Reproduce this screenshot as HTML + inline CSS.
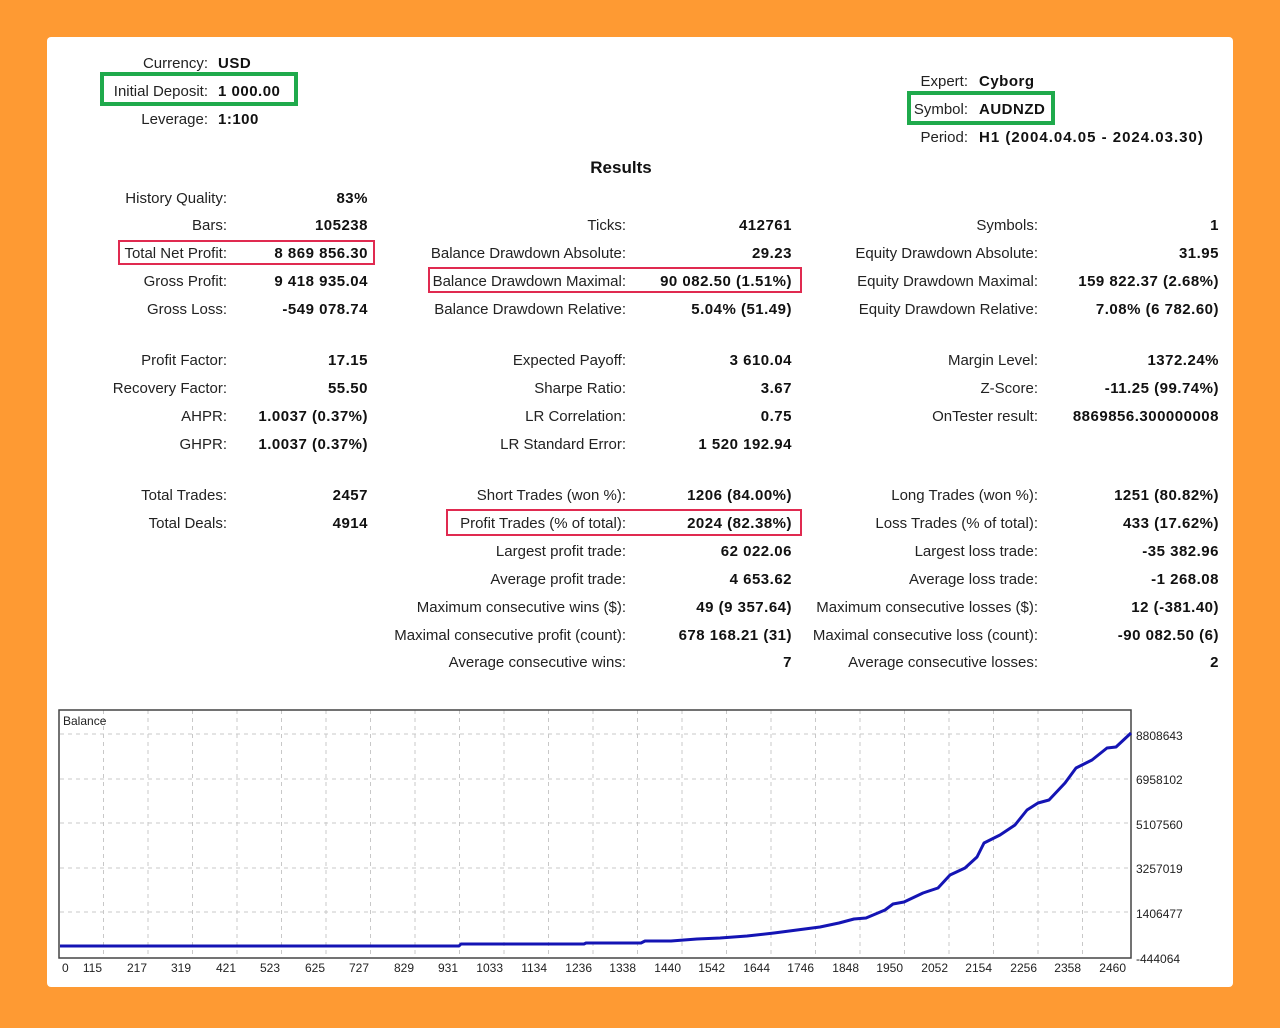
<!DOCTYPE html>
<html><head><meta charset="utf-8"><style>
body{margin:0;width:1280px;height:1026px;background:#fe9a33;position:relative;overflow:hidden;font-family:"Liberation Sans",sans-serif;font-size:15px;color:#222}
.panel{position:absolute;left:47px;top:37px;width:1186px;height:950px;background:#fff;border-radius:4px}
.w{position:absolute;left:0;top:2px;width:1280px;height:1026px}
.t{position:absolute;line-height:18px;white-space:nowrap}
.b{font-weight:bold;color:#111;letter-spacing:0.5px}
.box{position:absolute;box-sizing:border-box}
.g{border:4px solid #1faa4c}
.r{border:2px solid #e02a50}
</style></head><body>
<div class="panel"></div>
<div class="w">
<div class="t" style="top:53px;right:1072px">Currency:</div><div class="t b" style="top:53px;left:218px">USD</div>
<div class="t" style="top:81px;right:1072px">Initial Deposit:</div><div class="t b" style="top:81px;left:218px">1 000.00</div>
<div class="t" style="top:109px;right:1072px">Leverage:</div><div class="t b" style="top:109px;left:218px">1:100</div>
<div class="box g" style="left:100px;top:70px;width:198px;height:34px"></div>

<div class="t" style="top:71px;right:312px">Expert:</div><div class="t b" style="top:71px;left:979px">Cyborg</div>
<div class="t" style="top:99px;right:312px">Symbol:</div><div class="t b" style="top:99px;left:979px">AUDNZD</div>
<div class="t" style="top:127px;right:312px">Period:</div><div class="t b" style="top:127px;left:979px;letter-spacing:1px">H1 (2004.04.05 - 2024.03.30)</div>
<div class="box g" style="left:907px;top:89px;width:148px;height:34px"></div>

<div class="t b" style="top:157px;left:0;width:1242px;text-align:center;font-size:17px;letter-spacing:0">Results</div>

<div class="t" style="top:188px;right:1053px">History Quality:</div><div class="t b" style="top:188px;right:912px">83%</div>
<div class="t" style="top:215px;right:1053px">Bars:</div><div class="t b" style="top:215px;right:912px">105238</div>
<div class="t" style="top:243px;right:1053px">Total Net Profit:</div><div class="t b" style="top:243px;right:912px">8 869 856.30</div>
<div class="t" style="top:271px;right:1053px">Gross Profit:</div><div class="t b" style="top:271px;right:912px">9 418 935.04</div>
<div class="t" style="top:299px;right:1053px">Gross Loss:</div><div class="t b" style="top:299px;right:912px">-549 078.74</div>
<div class="t" style="top:350px;right:1053px">Profit Factor:</div><div class="t b" style="top:350px;right:912px">17.15</div>
<div class="t" style="top:378px;right:1053px">Recovery Factor:</div><div class="t b" style="top:378px;right:912px">55.50</div>
<div class="t" style="top:406px;right:1053px">AHPR:</div><div class="t b" style="top:406px;right:912px">1.0037 (0.37%)</div>
<div class="t" style="top:434px;right:1053px">GHPR:</div><div class="t b" style="top:434px;right:912px">1.0037 (0.37%)</div>
<div class="t" style="top:485px;right:1053px">Total Trades:</div><div class="t b" style="top:485px;right:912px">2457</div>
<div class="t" style="top:513px;right:1053px">Total Deals:</div><div class="t b" style="top:513px;right:912px">4914</div>
<div class="box r" style="left:118px;top:238px;width:257px;height:25px"></div>

<div class="t" style="top:215px;right:654px">Ticks:</div><div class="t b" style="top:215px;right:488px">412761</div>
<div class="t" style="top:243px;right:654px">Balance Drawdown Absolute:</div><div class="t b" style="top:243px;right:488px">29.23</div>
<div class="t" style="top:271px;right:654px">Balance Drawdown Maximal:</div><div class="t b" style="top:271px;right:488px">90 082.50 (1.51%)</div>
<div class="t" style="top:299px;right:654px">Balance Drawdown Relative:</div><div class="t b" style="top:299px;right:488px">5.04% (51.49)</div>
<div class="t" style="top:350px;right:654px">Expected Payoff:</div><div class="t b" style="top:350px;right:488px">3 610.04</div>
<div class="t" style="top:378px;right:654px">Sharpe Ratio:</div><div class="t b" style="top:378px;right:488px">3.67</div>
<div class="t" style="top:406px;right:654px">LR Correlation:</div><div class="t b" style="top:406px;right:488px">0.75</div>
<div class="t" style="top:434px;right:654px">LR Standard Error:</div><div class="t b" style="top:434px;right:488px">1 520 192.94</div>
<div class="t" style="top:485px;right:654px">Short Trades (won %):</div><div class="t b" style="top:485px;right:488px">1206 (84.00%)</div>
<div class="t" style="top:513px;right:654px">Profit Trades (% of total):</div><div class="t b" style="top:513px;right:488px">2024 (82.38%)</div>
<div class="t" style="top:541px;right:654px">Largest profit trade:</div><div class="t b" style="top:541px;right:488px">62 022.06</div>
<div class="t" style="top:569px;right:654px">Average profit trade:</div><div class="t b" style="top:569px;right:488px">4 653.62</div>
<div class="t" style="top:597px;right:654px">Maximum consecutive wins ($):</div><div class="t b" style="top:597px;right:488px">49 (9 357.64)</div>
<div class="t" style="top:625px;right:654px">Maximal consecutive profit (count):</div><div class="t b" style="top:625px;right:488px">678 168.21 (31)</div>
<div class="t" style="top:652px;right:654px">Average consecutive wins:</div><div class="t b" style="top:652px;right:488px">7</div>
<div class="box r" style="left:428px;top:265px;width:374px;height:26px"></div>
<div class="box r" style="left:446px;top:507px;width:356px;height:27px"></div>

<div class="t" style="top:215px;right:242px">Symbols:</div><div class="t b" style="top:215px;right:61px">1</div>
<div class="t" style="top:243px;right:242px">Equity Drawdown Absolute:</div><div class="t b" style="top:243px;right:61px">31.95</div>
<div class="t" style="top:271px;right:242px">Equity Drawdown Maximal:</div><div class="t b" style="top:271px;right:61px">159 822.37 (2.68%)</div>
<div class="t" style="top:299px;right:242px">Equity Drawdown Relative:</div><div class="t b" style="top:299px;right:61px">7.08% (6 782.60)</div>
<div class="t" style="top:350px;right:242px">Margin Level:</div><div class="t b" style="top:350px;right:61px">1372.24%</div>
<div class="t" style="top:378px;right:242px">Z-Score:</div><div class="t b" style="top:378px;right:61px">-11.25 (99.74%)</div>
<div class="t" style="top:406px;right:242px">OnTester result:</div><div class="t b" style="top:406px;right:61px">8869856.300000008</div>
<div class="t" style="top:485px;right:242px">Long Trades (won %):</div><div class="t b" style="top:485px;right:61px">1251 (80.82%)</div>
<div class="t" style="top:513px;right:242px">Loss Trades (% of total):</div><div class="t b" style="top:513px;right:61px">433 (17.62%)</div>
<div class="t" style="top:541px;right:242px">Largest loss trade:</div><div class="t b" style="top:541px;right:61px">-35 382.96</div>
<div class="t" style="top:569px;right:242px">Average loss trade:</div><div class="t b" style="top:569px;right:61px">-1 268.08</div>
<div class="t" style="top:597px;right:242px">Maximum consecutive losses ($):</div><div class="t b" style="top:597px;right:61px">12 (-381.40)</div>
<div class="t" style="top:625px;right:242px">Maximal consecutive loss (count):</div><div class="t b" style="top:625px;right:61px">-90 082.50 (6)</div>
<div class="t" style="top:652px;right:242px">Average consecutive losses:</div><div class="t b" style="top:652px;right:61px">2</div>
</div>

<svg style="position:absolute;left:0;top:0" width="1280" height="1026" font-family="Liberation Sans, sans-serif" font-size="12" fill="#222">
<g stroke="#c8c8c8" stroke-dasharray="4,4" stroke-width="1">
<line x1="60" y1="734" x2="1130" y2="734"/><line x1="60" y1="779" x2="1130" y2="779"/><line x1="60" y1="823" x2="1130" y2="823"/><line x1="60" y1="868" x2="1130" y2="868"/><line x1="60" y1="912" x2="1130" y2="912"/>
<line x1="103.5" y1="710" x2="103.5" y2="957"/><line x1="148" y1="710" x2="148" y2="957"/><line x1="192.5" y1="710" x2="192.5" y2="957"/><line x1="237" y1="710" x2="237" y2="957"/><line x1="281.5" y1="710" x2="281.5" y2="957"/><line x1="326" y1="710" x2="326" y2="957"/><line x1="370.5" y1="710" x2="370.5" y2="957"/><line x1="415" y1="710" x2="415" y2="957"/><line x1="459.5" y1="710" x2="459.5" y2="957"/><line x1="504" y1="710" x2="504" y2="957"/><line x1="548.5" y1="710" x2="548.5" y2="957"/><line x1="593" y1="710" x2="593" y2="957"/><line x1="637.5" y1="710" x2="637.5" y2="957"/><line x1="682" y1="710" x2="682" y2="957"/><line x1="726.5" y1="710" x2="726.5" y2="957"/><line x1="771" y1="710" x2="771" y2="957"/><line x1="815.5" y1="710" x2="815.5" y2="957"/><line x1="860" y1="710" x2="860" y2="957"/><line x1="904.5" y1="710" x2="904.5" y2="957"/><line x1="949" y1="710" x2="949" y2="957"/><line x1="993.5" y1="710" x2="993.5" y2="957"/><line x1="1038" y1="710" x2="1038" y2="957"/><line x1="1082.5" y1="710" x2="1082.5" y2="957"/>
</g>
<rect x="59" y="710" width="1072" height="248" fill="none" stroke="#444" stroke-width="1.5"/>
<text x="63" y="725" font-size="12">Balance</text>
<polyline fill="none" stroke="#1414b4" stroke-width="3" stroke-linejoin="round" points="60,946 459,946 461,944 584,944 586,943 641,943 645,941 671,941 697,939 720,938 747,936 774,933 797,930 820,927 839,923 854,919 866,918 885,910 893,904 904,902 923,893 938,888 950,875 965,868 977,857 984,843 1000,835 1015,825 1027,810 1038,803 1049,800 1065,783 1076,768 1092,760 1107,748 1116,747 1131,733"/>
<g text-anchor="end">
<text x="62" y="972" text-anchor="start">0</text>
<text x="102" y="972">115</text><text x="147" y="972">217</text><text x="191" y="972">319</text><text x="236" y="972">421</text><text x="280" y="972">523</text><text x="325" y="972">625</text><text x="369" y="972">727</text><text x="414" y="972">829</text><text x="458" y="972">931</text><text x="503" y="972">1033</text><text x="547" y="972">1134</text><text x="592" y="972">1236</text><text x="636" y="972">1338</text><text x="681" y="972">1440</text><text x="725" y="972">1542</text><text x="770" y="972">1644</text><text x="814" y="972">1746</text><text x="859" y="972">1848</text><text x="903" y="972">1950</text><text x="948" y="972">2052</text><text x="992" y="972">2154</text><text x="1037" y="972">2256</text><text x="1081" y="972">2358</text><text x="1126" y="972">2460</text>
</g>
<g font-size="12">
<text x="1136" y="740">8808643</text><text x="1136" y="784">6958102</text><text x="1136" y="829">5107560</text><text x="1136" y="873">3257019</text><text x="1136" y="918">1406477</text><text x="1136" y="963">-444064</text>
</g>
</svg>
</body></html>
